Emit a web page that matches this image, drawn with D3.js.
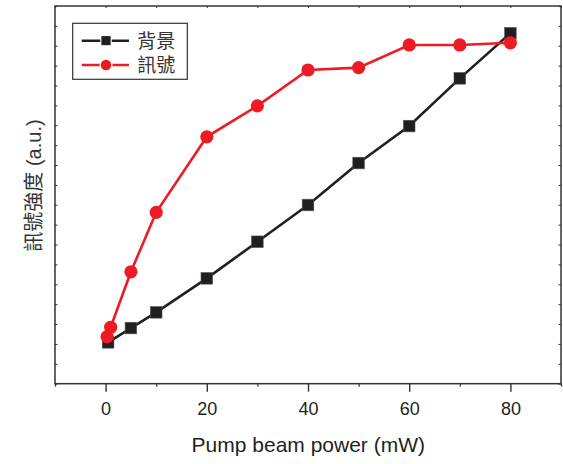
<!DOCTYPE html>
<html><head><meta charset="utf-8">
<script src="https://cdn.jsdelivr.net/npm/d3@7"></script>
<style>
body{margin:0;background:#fff;}
svg{display:block;}
text{font-family:"Liberation Sans",Arial,"Noto Sans CJK TC",sans-serif;fill:#231f20;}
</style></head><body>
<svg id="c" width="563" height="464"></svg>
<script>
const seriesNames = ["背景", "訊號"];
const bgX = [0.5, 5, 10, 20, 30, 40, 50, 60, 70, 80];
const bgY = [2.08, 2.80, 3.59, 5.30, 7.14, 8.99, 11.10, 12.96, 15.36, 17.63];
const sigX = [0.3, 1, 5, 10, 20, 30, 40, 50, 60, 70, 80];
const sigY = [2.36, 2.84, 5.63, 8.62, 12.42, 13.98, 15.78, 15.90, 17.04, 17.04, 17.15];
const xMajorTicks = [0, 20, 40, 60, 80];
const xMinorTicks = [-10, 10, 30, 50, 70, 90];
const yTicks = d3.range(0, 20, 1);
const xTitle = "Pump beam power (mW)";
const yTitle = "訊號強度 (a.u.)";

const svg = d3.select("#c");
const L = 55, R = 561, T = 6, B = 383.7;
const x = d3.scaleLinear().domain([-10, 90]).range([L, R]);
const y = d3.scaleLinear().domain([0, 19]).range([B, T]);
const axisColor = "#333";

// bottom axis major
const gB = svg.append("g").attr("transform", `translate(0,${B})`)
  .call(d3.axisBottom(x).tickValues(xMajorTicks).tickSize(8).tickPadding(6).tickFormat(d3.format("d")));
gB.select(".domain").remove();
gB.selectAll("line").attr("stroke", axisColor).attr("stroke-width", 1.4);
gB.selectAll("text").attr("font-size", 18).style("fill", "#231f20").attr("dy", "0.95em");
const gBm = svg.append("g").attr("transform", `translate(0,${B})`)
  .call(d3.axisBottom(x).tickValues(xMinorTicks).tickSize(3).tickFormat(""));
gBm.select(".domain").remove();
gBm.selectAll("line").attr("stroke", axisColor).attr("stroke-width", 1.2);

// top axis (inward small ticks)
const gT = svg.append("g").attr("transform", `translate(0,${T})`)
  .call(d3.axisBottom(x).tickValues(xMajorTicks.concat(xMinorTicks)).tickSize(2).tickFormat(""));
gT.select(".domain").remove();
gT.selectAll("line").attr("stroke", axisColor).attr("stroke-width", 1);

// left & right axes (inward small ticks)
const gL = svg.append("g").attr("transform", `translate(${L},0)`)
  .call(d3.axisRight(y).tickValues(yTicks).tickSize(2.5).tickFormat(""));
gL.select(".domain").remove();
gL.selectAll("line").attr("stroke", axisColor).attr("stroke-width", 1);
const gR = svg.append("g").attr("transform", `translate(${R},0)`)
  .call(d3.axisLeft(y).tickValues(yTicks).tickSize(2.5).tickFormat(""));
gR.select(".domain").remove();
gR.selectAll("line").attr("stroke", axisColor).attr("stroke-width", 1);

// frame
svg.append("rect").attr("x", L).attr("y", T).attr("width", R - L).attr("height", B - T)
  .attr("fill", "none").attr("stroke", axisColor).attr("stroke-width", 1.5);

const black = "#231f20", red = "#ed1c24";
const line = d3.line().x(d => x(d[0])).y(d => y(d[1]));
const bgData = bgX.map((v, i) => [v, bgY[i]]);
const sigData = sigX.map((v, i) => [v, sigY[i]]);

svg.append("path").datum(bgData).attr("d", line).attr("fill", "none")
  .attr("stroke", black).attr("stroke-width", 2.6);
svg.selectAll("rect.bg").data(bgData).enter().append("rect").attr("class", "bg")
  .attr("x", d => x(d[0]) - 5.8).attr("y", d => y(d[1]) - 5.8)
  .attr("width", 11.6).attr("height", 11.6).attr("fill", black)
  .attr("stroke", "#555").attr("stroke-width", 0.6);

svg.append("path").datum(sigData).attr("d", line).attr("fill", "none")
  .attr("stroke", red).attr("stroke-width", 2.6);
svg.selectAll("circle.sig").data(sigData).enter().append("circle").attr("class", "sig")
  .attr("cx", d => x(d[0])).attr("cy", d => y(d[1])).attr("r", 6.6).attr("fill", red);

// legend
const lg = svg.append("g");
lg.append("rect").attr("x", 72.7).attr("y", 23.3).attr("width", 114.6).attr("height", 56)
  .attr("fill", "#fff").attr("stroke", "#333").attr("stroke-width", 1.2);
const rows = [{name: seriesNames[0], c: black, shape: "sq", yy: 40.7},
              {name: seriesNames[1], c: red, shape: "ci", yy: 65}];
rows.forEach(r => {
  lg.append("line").attr("x1", 81.7).attr("x2", 129).attr("y1", r.yy).attr("y2", r.yy)
    .attr("stroke", r.c).attr("stroke-width", 2.6);
  if (r.shape === "sq") {
    lg.append("rect").attr("x", 106 - 5).attr("y", r.yy - 5).attr("width", 10).attr("height", 10)
      .attr("fill", r.c).attr("stroke", "#fff").attr("stroke-width", 1.5);
    lg.append("rect").attr("x", 106 - 4.5).attr("y", r.yy - 4.5).attr("width", 9).attr("height", 9).attr("fill", r.c);
  } else {
    lg.append("circle").attr("cx", 106).attr("cy", r.yy).attr("r", 6.5).attr("fill", "#fff");
    lg.append("circle").attr("cx", 106).attr("cy", r.yy).attr("r", 5.3).attr("fill", r.c);
  }
  lg.append("text").attr("x", 137.3).attr("y", r.yy).attr("dy", "0.36em")
    .attr("font-size", 19)
    .style("fill", "#333").text(r.name);
});

// axis titles
svg.append("text").attr("x", 308.3).attr("y", 452).attr("text-anchor", "middle")
  .attr("font-size", 21).text(xTitle);
svg.append("text").attr("transform", "translate(40.5,185.5) rotate(-90)").attr("text-anchor", "middle")
  .attr("font-size", 20).style("fill", "#333").text(yTitle);
</script>
</body></html>
